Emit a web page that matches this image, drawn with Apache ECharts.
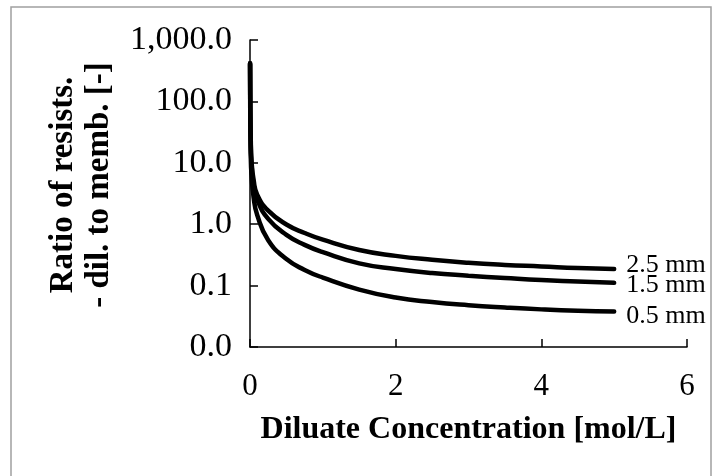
<!DOCTYPE html>
<html>
<head>
<meta charset="utf-8">
<script src="https://cdn.jsdelivr.net/npm/echarts@6/dist/echarts.min.js"></script>
<style>
  html, body { margin: 0; padding: 0; background: #fff; }
  #chart { width: 714px; height: 476px; }
</style>
</head>
<body>
<div id="chart"></div>
<script>
// diluate concentration [mol/L]
var conc = [0.001, 0.003, 0.006, 0.01, 0.02, 0.05, 0.1, 0.25, 0.5, 0.75, 1, 1.5, 2, 2.5, 3, 3.5, 4, 4.5, 5];
// ratio of resistances, one array per spacer thickness
var r25 = [420, 130, 50, 25, 11, 5.2, 3.0, 1.66, 0.99, 0.72, 0.56, 0.38, 0.305, 0.263, 0.235, 0.217, 0.205, 0.193, 0.186];
var r15 = [420, 110, 45, 22, 10, 4.4, 2.5, 1.22, 0.67, 0.46, 0.35, 0.23, 0.186, 0.16, 0.145, 0.133, 0.123, 0.117, 0.111];
var r05 = [400, 80, 30, 14, 6.5, 2.7, 1.4, 0.55, 0.27, 0.18, 0.135, 0.086, 0.064, 0.054, 0.048, 0.044, 0.041, 0.039, 0.038];
var names = ['2.5 mm', '1.5 mm', '0.5 mm'];

var font = 'Liberation Serif';

function pairs(ys) {
  return conc.map(function (c, i) { return [c, ys[i]]; });
}

function makeSeries(name, ys, dy) {
  return {
    name: name,
    type: 'line',
    data: pairs(ys),
    smooth: 0.5,
    showSymbol: false,
    lineStyle: { color: '#000', width: 4.5, cap: 'round' },
    endLabel: {
      show: true,
      formatter: '{a}',
      color: '#000',
      fontFamily: font,
      fontSize: 26,
      distance: 12,
      offset: [0, dy]
    }
  };
}

var chart = echarts.init(document.getElementById('chart'));
chart.setOption({
  animation: false,
  grid: { left: 250, right: 27, top: 40, bottom: 129 },
  xAxis: {
    type: 'value',
    min: 0, max: 6, interval: 2,
    name: 'Diluate Concentration [mol/L]',
    nameLocation: 'middle',
    nameGap: 67,
    nameTextStyle: { fontFamily: font, fontSize: 32, fontWeight: 'bold', color: '#000' },
    axisLine: { lineStyle: { color: '#000', width: 1.5 } },
    axisTick: { inside: true, length: 8, lineStyle: { color: '#000', width: 1.5 } },
    axisLabel: { fontFamily: font, fontSize: 31, color: '#000', margin: 24 },
    splitLine: { show: false }
  },
  yAxis: {
    type: 'log',
    logBase: 10,
    min: 0.01, max: 1000,
    axisLine: { show: true, lineStyle: { color: '#000', width: 1.5 } },
    axisTick: { show: true, inside: true, length: 8, lineStyle: { color: '#000', width: 1.5 } },
    axisLabel: {
      fontFamily: font, fontSize: 34, color: '#000', margin: 18,
      formatter: function (v) {
        return v.toLocaleString('en-US', { minimumFractionDigits: 1, maximumFractionDigits: 1 });
      }
    },
    splitLine: { show: false }
  },
  graphic: [
    {
      type: 'rect',
      shape: { x: 11, y: 7, width: 700, height: 480 },
      style: { fill: 'none', stroke: '#a0a0a0', lineWidth: 1.5 },
      silent: true
    },
    {
      type: 'text',
      x: 81, y: 185,
      rotation: Math.PI / 2,
      style: {
        text: 'Ratio of resists.\n- dil. to memb. [-]',
        fontFamily: font, fontSize: 33, fontWeight: 'bold',
        fill: '#000', align: 'center', verticalAlign: 'middle', lineHeight: 36
      }
    }
  ],
  series: [
    makeSeries(names[0], r25, -4),
    makeSeries(names[1], r15, 2),
    makeSeries(names[2], r05, 5)
  ]
});
</script>
</body>
</html>
